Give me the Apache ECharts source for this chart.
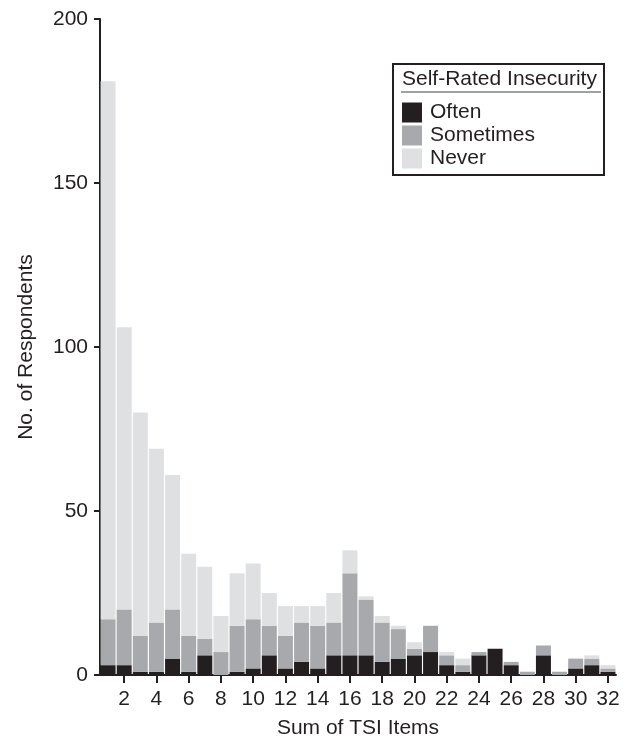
<!DOCTYPE html>
<html>
<head>
<meta charset="utf-8">
<script src="https://cdn.jsdelivr.net/npm/echarts@6/dist/echarts.min.js"></script>
<style>
html,body{margin:0;padding:0;background:#fff;}
#chart{width:633px;height:744px;}
</style>
</head>
<body>
<div id="chart"></div>
<script>
const categories = ['1','2','3','4','5','6','7','8','9','10','11','12','13','14','15','16','17','18','19','20','21','22','23','24','25','26','27','28','29','30','31','32'];
const often     = [3,3,1,1,5,1,6,0,1,2,6,2,4,2,6,6,6,4,5,6,7,3,1,6,8,3,0,6,0,2,3,1];
const sometimes = [14,17,11,15,15,11,5,7,14,15,9,10,12,13,10,25,17,12,9,2,8,3,2,1,0,1,1,3,1,3,2,1];
const never     = [164,86,68,53,41,25,22,11,16,17,10,9,5,6,9,7,1,2,1,2,0,1,2,0,0,0,0,0,0,0,1,1];
const yTicks = [0,50,100,150,200];

const FONT = 'Liberation Sans, Arial, Helvetica, sans-serif';
const INK = '#231f20';
const chart = echarts.init(document.getElementById('chart'), null, {renderer:'canvas'});
const evenOnly = (i) => i % 2 === 1;
const mk = (name, data, color) => ({
  name, type:'bar', stack:'total', data, barWidth:'93%',
  itemStyle:{color}, emphasis:{disabled:true}, animation:false
});
chart.setOption({
  animation:false,
  backgroundColor:'#ffffff',
  grid:{left:100, right:17, top:19, bottom:64, containLabel:false},
  xAxis:{
    type:'category', data:categories,
    name:'Sum of TSI Items', nameLocation:'middle', nameGap:43,
    nameTextStyle:{fontFamily:FONT, fontSize:21, color:INK},
    axisLine:{lineStyle:{color:INK, width:2}},
    axisTick:{show:true, interval:evenOnly, alignWithLabel:true, length:8, lineStyle:{color:INK, width:2}},
    axisLabel:{interval:evenOnly, fontFamily:FONT, fontSize:21, color:INK, margin:14}
  },
  yAxis:{
    type:'value', min:yTicks[0], max:yTicks[yTicks.length-1], interval:50,
    name:'No. of Respondents', nameLocation:'middle', nameGap:63, nameRotate:90,
    nameTextStyle:{fontFamily:FONT, fontSize:21, color:INK},
    axisLine:{show:true, lineStyle:{color:INK, width:2}},
    axisTick:{show:true, length:6, lineStyle:{color:INK, width:2}},
    axisLabel:{fontFamily:FONT, fontSize:21, color:INK, margin:12},
    splitLine:{show:false}
  },
  legend:{
    orient:'vertical', left:402, top:102, itemWidth:20, itemHeight:20, itemGap:2,
    icon:'rect', data:['Often','Sometimes','Never'],
    textStyle:{fontFamily:FONT, fontSize:21, color:INK, lineHeight:20, padding:[0,0,0,3]},
    selectedMode:false, padding:0
  },
  graphic:[
    {type:'rect', shape:{x:393, y:64, width:211, height:111}, style:{fill:'none', stroke:INK, lineWidth:2}, z:100},
    {type:'text', left:402, top:69, style:{text:'Self-Rated Insecurity', font:'21px ' + FONT, fill:INK}, z:100},
    {type:'line', shape:{x1:401, y1:92, x2:601, y2:92}, style:{stroke:'#808285', lineWidth:1.5}, z:100}
  ],
  series:[
    mk('Often', often, INK),
    mk('Sometimes', sometimes, '#a7a9ac'),
    mk('Never', never, '#dfe0e2')
  ]
});
</script>
</body>
</html>
